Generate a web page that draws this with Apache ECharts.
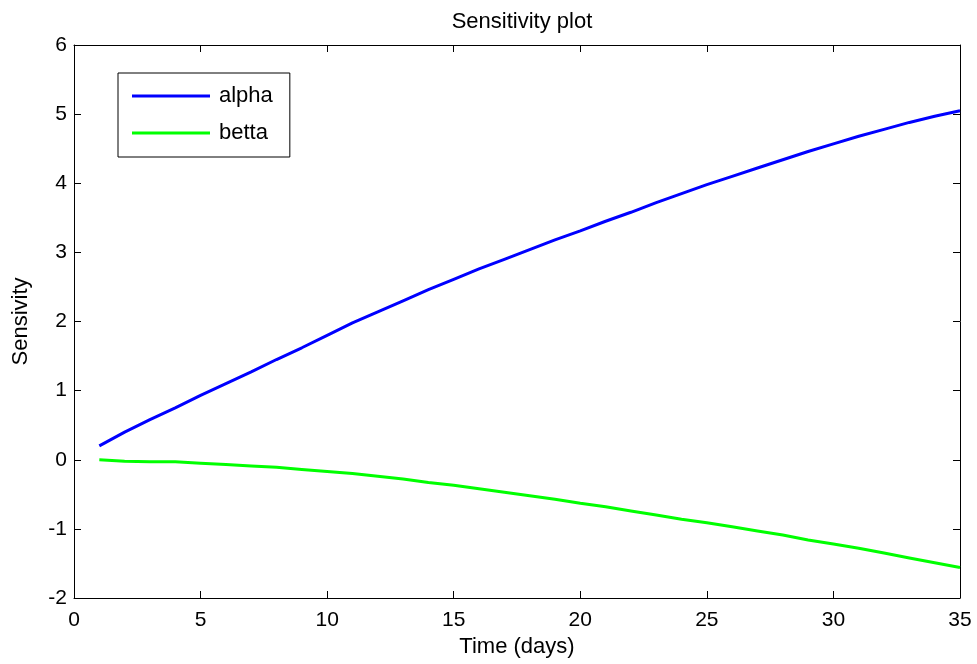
<!DOCTYPE html>
<html>
<head>
    <meta charset="utf-8">
    <title>Sensitivity plot</title>
    <script src="https://cdn.jsdelivr.net/npm/echarts@6/dist/echarts.min.js"></script>
    <style>
        html, body { margin: 0; padding: 0; background: #fff; }
        #chart { width: 977px; height: 664px; }
    </style>
</head>
<body>
<div id="chart"></div>
<script type="text/javascript">
    // time in days
    const days = [1, 2, 3, 4, 5, 6, 7, 8, 9, 10, 11, 12, 13, 14, 15, 16, 17, 18,
        19, 20, 21, 22, 23, 24, 25, 26, 27, 28, 29, 30, 31, 32, 33, 34, 35];
    const alpha = [0.20, 0.40, 0.58, 0.75, 0.93, 1.10, 1.27, 1.45, 1.62, 1.80, 1.98, 2.14,
        2.30, 2.46, 2.61, 2.76, 2.90, 3.04, 3.18, 3.31, 3.45, 3.58, 3.72, 3.85, 3.98, 4.10,
        4.22, 4.34, 4.46, 4.57, 4.68, 4.78, 4.88, 4.97, 5.05];
    const betta = [0.00, -0.02, -0.03, -0.03, -0.05, -0.07, -0.09, -0.11, -0.14, -0.17, -0.20,
        -0.24, -0.28, -0.33, -0.37, -0.42, -0.47, -0.52, -0.57, -0.63, -0.68, -0.74, -0.80,
        -0.86, -0.91, -0.97, -1.03, -1.09, -1.16, -1.22, -1.28, -1.35, -1.42, -1.49, -1.56];

    const font = 'Liberation Sans, Arial, sans-serif';
    const chart = echarts.init(document.getElementById('chart'));

    function pairs(ys) {
        return days.map(function (d, i) { return [d, ys[i]]; });
    }

    const boxAxis = {
        axisLine: { show: true, onZero: false, lineStyle: { color: '#000', width: 1 } },
        axisTick: { show: true, inside: true, length: 7, lineStyle: { color: '#000' } },
        splitLine: { show: false }
    };

    chart.setOption({
        animation: false,
        backgroundColor: '#fff',
        title: {
            text: 'Sensitivity plot',
            left: 517,
            top: 6,
            textAlign: 'center',
            textStyle: { fontFamily: font, fontSize: 22, fontWeight: 'normal', color: '#000' }
        },
        legend: {
            orient: 'vertical',
            left: 118,
            top: 73,
            padding: [12, 17, 13, 14],
            itemGap: 15,
            itemWidth: 78,
            itemHeight: 3,
            icon: 'rect',
            borderColor: '#000',
            borderWidth: 1,
            textStyle: { fontFamily: font, fontSize: 22, color: '#000', padding: [0, 0, 0, 4] },
            data: ['alpha', 'betta']
        },
        grid: { left: 74, right: 17, top: 45, bottom: 66 },
        xAxis: [
            Object.assign({
                type: 'value', min: 0, max: 35, interval: 5, position: 'bottom',
                name: 'Time (days)', nameLocation: 'middle', nameGap: 36,
                nameTextStyle: { fontFamily: font, fontSize: 22, color: '#000' },
                axisLabel: { fontFamily: font, fontSize: 21, color: '#000', margin: 12 }
            }, boxAxis),
            Object.assign({
                type: 'value', min: 0, max: 35, interval: 5, position: 'top',
                axisLabel: { show: false }
            }, boxAxis)
        ],
        yAxis: [
            Object.assign({
                type: 'value', min: -2, max: 6, interval: 1, position: 'left',
                name: 'Sensivity', nameLocation: 'middle', nameGap: 42, nameRotate: 90,
                nameTextStyle: { fontFamily: font, fontSize: 22, color: '#000' },
                axisLabel: { fontFamily: font, fontSize: 21, color: '#000', margin: 7 }
            }, boxAxis),
            Object.assign({
                type: 'value', min: -2, max: 6, interval: 1, position: 'right',
                axisLabel: { show: false }
            }, boxAxis)
        ],
        series: [
            {
                name: 'alpha', type: 'line', data: pairs(alpha),
                showSymbol: false, symbol: 'none',
                color: '#0000ff', lineStyle: { width: 3, color: '#0000ff' }
            },
            {
                name: 'betta', type: 'line', data: pairs(betta),
                showSymbol: false, symbol: 'none',
                color: '#00ff00', lineStyle: { width: 3, color: '#00ff00' }
            }
        ]
    });
    window.addEventListener('resize', chart.resize);
</script>
</body>
</html>
